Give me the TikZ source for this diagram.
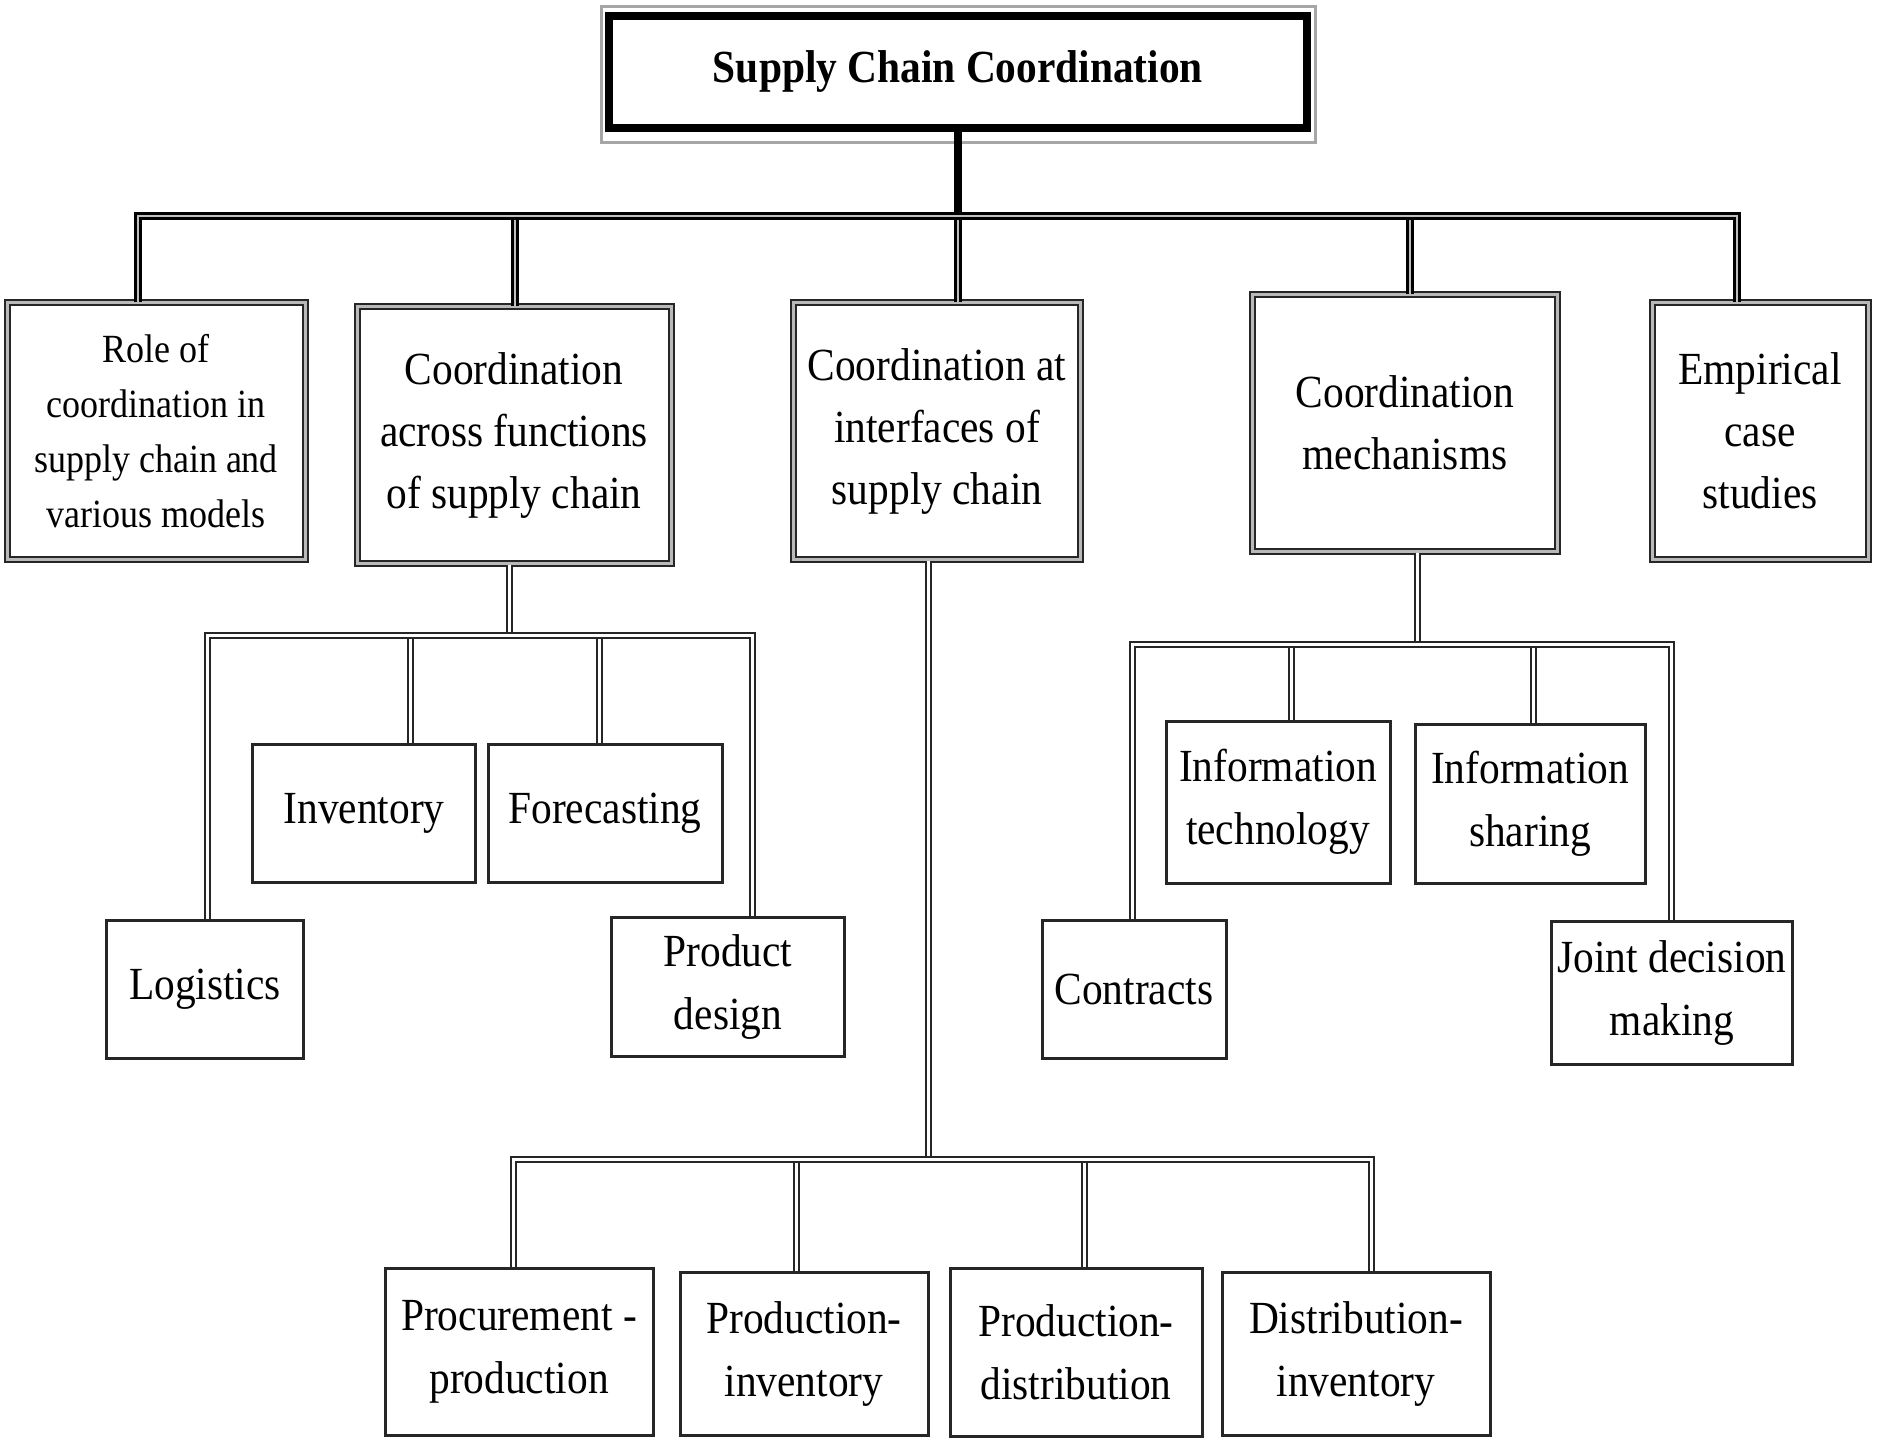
\documentclass[tikz,border=0pt]{standalone}
\usepackage{fontspec}
\setmainfont{Liberation Serif}[FakeStretch=0.9]
\tikzset{
	topic/.style={draw=black!85, line width=2pt, double=gray!55, double distance=3pt, fill=white, align=center, inner sep=0pt, font=\fontsize{46}{62}\selectfont},
	leaf/.style={draw=black!85, line width=3pt, fill=white, align=center, inner sep=0pt, font=\fontsize{46}{63}\selectfont},
	trunk/.style={draw=black, line width=3pt, double=gray!50, double distance=2pt},
	branch/.style={draw=black!85, line width=2pt, double=white, double distance=3pt},
}

\begin{document}
\begin{tikzpicture}[x=1pt, y=-1pt]
		\useasboundingbox[fill=white] (0,0) rectangle (1878,1440);

		\coordinate (topbar) at (958,216);
		\coordinate (fnbar) at (509,635);
		\coordinate (mechbar) at (1417,644);
		\coordinate (ifbar) at (928,1159);

		% title
		\node[draw, line width=8pt, minimum width=698pt, minimum height=112pt, inner sep=0pt, font=\bfseries\fontsize{46}{62}\selectfont] (title) at (958,72) {Supply Chain Coordination};
		\draw[gray!70, line width=3pt] ([xshift=-4pt, yshift=6pt]title.north west) rectangle ([xshift=4pt, yshift=-10pt]title.south east);

		% first level
		\node[topic, minimum width=298pt, minimum height=257pt, font=\fontsize{40}{55}\selectfont] (role) at (156,431) {Role of\\coordination in\\supply chain and\\various models};
		\node[topic, minimum width=314pt, minimum height=257pt] (across) at (514,435) {Coordination\\across functions\\of supply chain};
		\node[topic, minimum width=287pt, minimum height=257pt] (interf) at (937,431) {Coordination at\\interfaces of\\supply chain};
		\node[topic, minimum width=305pt, minimum height=257pt] (mech) at (1405,423) {Coordination\\mechanisms};
		\node[topic, minimum width=216pt, minimum height=257pt] (empir) at (1760,431) {Empirical\\case\\studies};

		% second level
		\node[leaf, minimum width=223pt, minimum height=138pt] (inv) at (364,813) {Inventory};
		\node[leaf, minimum width=234pt, minimum height=138pt] (fore) at (605,813) {Forecasting};
		\node[leaf, minimum width=197pt, minimum height=138pt] (logi) at (205,989) {Logistics};
		\node[leaf, minimum width=233pt, minimum height=139pt] (prod) at (728,987) {Product\\design};
		\node[leaf, minimum width=224pt, minimum height=162pt] (itech) at (1278,802) {Information\\technology};
		\node[leaf, minimum width=230pt, minimum height=159pt] (ishare) at (1530,804) {Information\\sharing};
		\node[leaf, minimum width=184pt, minimum height=138pt] (contr) at (1134,989) {Contracts};
		\node[leaf, minimum width=241pt, minimum height=143pt] (joint) at (1672,993) {Joint decision\\making};
		\node[leaf, minimum width=268pt, minimum height=167pt] (procp) at (519,1352) {Procurement -\\production};
		\node[leaf, minimum width=248pt, minimum height=163pt] (prinv) at (804,1354) {Production-\\inventory};
		\node[leaf, minimum width=252pt, minimum height=168pt] (prdist) at (1076,1352) {Production-\\distribution};
		\node[leaf, minimum width=268pt, minimum height=163pt] (distinv) at (1356,1354) {Distribution-\\inventory};

		% top bar
		\draw[black, line width=8pt] (title.south) -- (topbar);
		\foreach \n/\dx in {across/1, interf/21, mech/5}
			\draw[trunk] ([xshift=\dx pt]\n.north) -- ([xshift=\dx pt]\n.north |- topbar);
		\draw[trunk] ([xshift=-18pt]role.north) |- (topbar) -| ([xshift=-23pt]empir.north);

		% functions
		\draw[branch] ([xshift=-5pt]across.south) -- (fnbar);
		\foreach \n/\dx in {inv/46, fore/-6}
			\draw[branch] ([xshift=\dx pt]\n.north) -- ([xshift=\dx pt]\n.north |- fnbar);
		\draw[branch] ([xshift=2pt]logi.north) |- (fnbar) -| ([xshift=24pt]prod.north);

		% mechanisms
		\draw[branch] ([xshift=12pt]mech.south) -- (mechbar);
		\foreach \n/\dx in {itech/13, ishare/3}
			\draw[branch] ([xshift=\dx pt]\n.north) -- ([xshift=\dx pt]\n.north |- mechbar);
		\draw[branch] ([xshift=-2pt]contr.north) |- (mechbar) -| ([xshift=-1pt]joint.north);

		% interfaces
		\draw[branch] ([xshift=-9pt]interf.south) -- (ifbar);
		\foreach \n/\dx in {prinv/-8, prdist/8}
			\draw[branch] ([xshift=\dx pt]\n.north) -- ([xshift=\dx pt]\n.north |- ifbar);
		\draw[branch] ([xshift=-6pt]procp.north) |- (ifbar) -| ([xshift=15pt]distinv.north);
	\end{tikzpicture}
\end{document}
